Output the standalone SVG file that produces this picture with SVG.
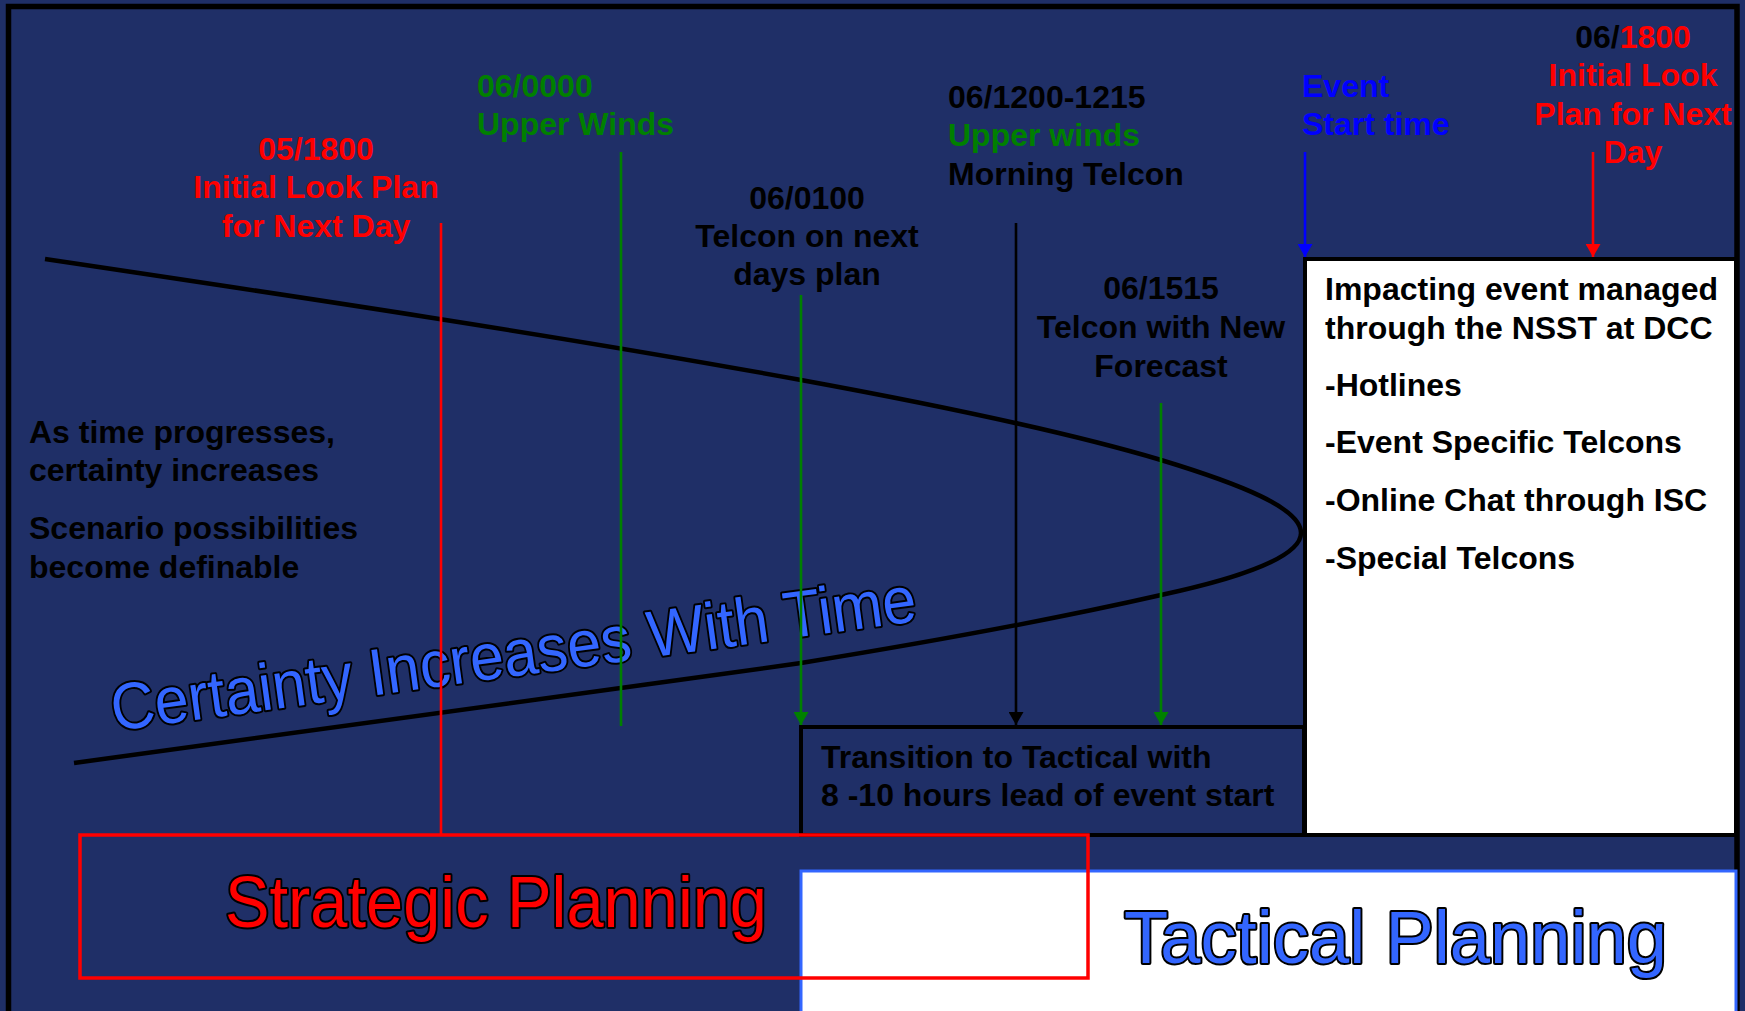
<svg xmlns="http://www.w3.org/2000/svg" width="1745" height="1011" viewBox="0 0 1745 1011">
<defs>
<style>
text{font-family:"Liberation Sans",Arial,sans-serif;}
.b{font-weight:bold;font-size:32px;}
.blk{fill:#000;}
.red{fill:#FF0000;}
.grn{fill:#008000;}
.blu{fill:#0000FF;}
.mid{text-anchor:middle;}
.wa{font-size:72px;stroke:#000;stroke-width:4px;paint-order:stroke;stroke-linejoin:round;}
.ln{stroke-width:2.6;fill:none;}
</style>
<marker id="ahG" viewBox="0 0 13 15" refX="13" refY="7.5" markerWidth="13" markerHeight="15" markerUnits="userSpaceOnUse" orient="auto"><path d="M0,0 L13,7.5 L0,15 z" fill="#008000"/></marker>
<marker id="ahK" viewBox="0 0 13 15" refX="13" refY="7.5" markerWidth="13" markerHeight="15" markerUnits="userSpaceOnUse" orient="auto"><path d="M0,0 L13,7.5 L0,15 z" fill="#000"/></marker>
<marker id="ahB" viewBox="0 0 13 15" refX="13" refY="7.5" markerWidth="13" markerHeight="15" markerUnits="userSpaceOnUse" orient="auto"><path d="M0,0 L13,7.5 L0,15 z" fill="#0000FF"/></marker>
<marker id="ahR" viewBox="0 0 13 15" refX="13" refY="7.5" markerWidth="13" markerHeight="15" markerUnits="userSpaceOnUse" orient="auto"><path d="M0,0 L13,7.5 L0,15 z" fill="#FF0000"/></marker>
</defs>

<rect x="0" y="0" width="1745" height="1011" fill="#1F2F67"/>
<rect id="frame" x="8.5" y="6.5" width="1728.5" height="1020" fill="none" stroke="#000" stroke-width="5.5"/>

<g id="curve">
<path d="M45,259 C300,297 560,336 801,380 C921,402 1060,430 1161,460 C1240,484 1301,508 1301,533 C1301,556 1245,577 1161,595 C1060,618 930,642 801,663 C560,697 320,729 74,763" fill="none" stroke="#000" stroke-width="4.5"/>
</g>

<g id="certainty-label">
<text class="wa" x="114" y="731" style="font-size:66px;fill:#3366FF" textLength="812" lengthAdjust="spacingAndGlyphs" transform="rotate(-7.8 114 731)">Certainty Increases With Time</text>
</g>

<g id="left-notes">
<text class="b blk" x="29" y="443">As time progresses,</text>
<text class="b blk" x="29" y="481">certainty increases</text>
<text class="b blk" x="29" y="539">Scenario possibilities</text>
<text class="b blk" x="29" y="577.5">become definable</text>
</g>

<g id="n-0518">
<text class="b red mid" x="316" y="159.5">05/1800</text>
<text class="b red mid" x="316" y="198">Initial Look Plan</text>
<text class="b red mid" x="316" y="236.5">for Next Day</text>
</g>

<g id="n-0600">
<text class="b grn" x="477" y="96.5">06/0000</text>
<text class="b grn" x="477" y="134.5">Upper Winds</text>
</g>

<g id="n-0601">
<text class="b blk mid" x="807" y="208.5">06/0100</text>
<text class="b blk mid" x="807" y="246.5">Telcon on next</text>
<text class="b blk mid" x="807" y="285">days plan</text>
</g>

<g id="n-0612">
<text class="b blk" x="948" y="107.5">06/1200-1215</text>
<text class="b grn" x="948" y="146">Upper winds</text>
<text class="b blk" x="948" y="184.5">Morning Telcon</text>
</g>

<g id="n-0615">
<text class="b blk mid" x="1161" y="299">06/1515</text>
<text class="b blk mid" x="1161" y="338">Telcon with New</text>
<text class="b blk mid" x="1161" y="376.5">Forecast</text>
</g>

<g id="n-event">
<text class="b blu" x="1302" y="96.5">Event</text>
<text class="b blu" x="1302" y="134.5">Start time</text>
</g>

<g id="n-0618">
<text class="b mid" x="1633" y="47.5"><tspan class="blk">06/</tspan><tspan class="red">1800</tspan></text>
<text class="b red mid" x="1633" y="86">Initial Look</text>
<text class="b red mid" x="1633" y="124.5">Plan for Next</text>
<text class="b red mid" x="1633" y="163">Day</text>
</g>

<g id="connectors">
<line class="ln" x1="621" y1="152" x2="621" y2="726" stroke="#008000"/>
<line class="ln" x1="441" y1="223" x2="441" y2="835" stroke="#FF0000"/>
<line class="ln" x1="801" y1="295" x2="801" y2="725" stroke="#008000" marker-end="url(#ahG)"/>
<line class="ln" x1="1016" y1="223" x2="1016" y2="725" stroke="#000" marker-end="url(#ahK)"/>
<line class="ln" x1="1161" y1="403" x2="1161" y2="725" stroke="#008000" marker-end="url(#ahG)"/>
<line class="ln" x1="1305" y1="152" x2="1305" y2="257" stroke="#0000FF" stroke-width="3" marker-end="url(#ahB)"/>
<line class="ln" x1="1593" y1="152" x2="1593" y2="257" stroke="#FF0000" stroke-width="3" marker-end="url(#ahR)"/>
</g>

<g id="transition-box">
<rect x="801" y="727" width="503" height="108" fill="#1F2F67" stroke="#000" stroke-width="4"/>
<text class="b blk" x="821" y="767.5">Transition to Tactical with</text>
<text class="b blk" x="821" y="805.5">8 -10 hours lead of event start</text>
</g>

<g id="impact-box">
<rect x="1305" y="259" width="431" height="576" fill="#FFFFFF" stroke="#000" stroke-width="4"/>
<text class="b blk" x="1325" y="300">Impacting event managed</text>
<text class="b blk" x="1325" y="339">through the NSST at DCC</text>
<text class="b blk" x="1325" y="396">-Hotlines</text>
<text class="b blk" x="1325" y="453">-Event Specific Telcons</text>
<text class="b blk" x="1325" y="511">-Online Chat through ISC</text>
<text class="b blk" x="1325" y="568.5">-Special Telcons</text>
</g>

<g id="tactical">
<rect x="801" y="871" width="935" height="170" fill="#FFFFFF" stroke="#3366FF" stroke-width="3"/>
<text class="wa" x="1124" y="963" style="font-size:74px;fill:#3366FF" textLength="543" lengthAdjust="spacingAndGlyphs">Tactical Planning</text>
</g>

<g id="strategic">
<rect x="80" y="835" width="1008" height="143" fill="none" stroke="#FF0000" stroke-width="3.5"/>
<text class="wa" x="225" y="927" style="fill:#FF0000" textLength="542" lengthAdjust="spacingAndGlyphs">Strategic Planning</text>
</g>
</svg>
